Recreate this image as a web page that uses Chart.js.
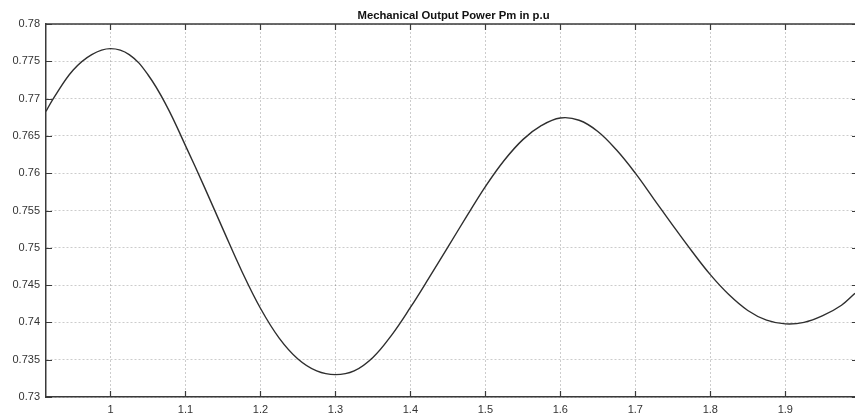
<!DOCTYPE html>
<html>
<head>
<meta charset="utf-8">
<script src="https://cdn.jsdelivr.net/npm/chart.js@4"></script>
<style>
  html, body { margin: 0; padding: 0; background: #fff; }
  #wrap { width: 855px; height: 419px; }
</style>
</head>
<body>
<div id="wrap"><canvas id="chart-pm"></canvas></div>
<script>
// time axis (s) and mechanical power (p.u.)
var time = [0.914, 0.925, 0.95, 0.975, 1.0, 1.025, 1.05, 1.075, 1.1, 1.125,
    1.15, 1.175, 1.2, 1.225, 1.25, 1.275, 1.3, 1.325, 1.35, 1.375,
    1.4, 1.425, 1.45, 1.475, 1.5, 1.525, 1.55, 1.575, 1.6, 1.625,
    1.65, 1.675, 1.7, 1.725, 1.75, 1.775, 1.8, 1.825, 1.85, 1.875,
    1.9, 1.925, 1.95, 1.975, 1.993];
var power = [0.7683, 0.7702, 0.7738, 0.7759, 0.7767, 0.7759, 0.7732, 0.7690, 0.7637, 0.7582,
    0.7525, 0.7469, 0.7419, 0.7379, 0.7351, 0.7335, 0.7330, 0.7335, 0.7353, 0.7383,
    0.7420, 0.7460, 0.7501, 0.7542, 0.7582, 0.7617, 0.7645, 0.7664, 0.7674, 0.7671,
    0.7656, 0.7631, 0.7600, 0.7565, 0.7530, 0.7496, 0.7464, 0.7437, 0.7416, 0.7403,
    0.7398, 0.7400, 0.7409, 0.7423, 0.7439];

var xTicks = [1, 1.1, 1.2, 1.3, 1.4, 1.5, 1.6, 1.7, 1.8, 1.9];
var yTicks = [0.73, 0.735, 0.74, 0.745, 0.75, 0.755, 0.76, 0.765, 0.77, 0.775, 0.78];
var title = 'Mechanical Output Power Pm in p.u';

var AXIS = '#3a3a3a';
var GRID = 'rgba(0,0,0,0.2)';

// box + inward ticks, title over the plot centre
var axesPlugin = {
    id: 'axesBox',
    afterDraw: function (chart) {
        var ctx = chart.ctx;
        var a = chart.chartArea;
        var sx = chart.scales.x, sy = chart.scales.y;
        ctx.save();
        ctx.strokeStyle = AXIS;
        ctx.lineWidth = 1.5;
        ctx.beginPath();
        ctx.moveTo(a.left, a.top);
        ctx.lineTo(a.right, a.top);
        ctx.stroke();

        ctx.lineWidth = 1.2;
        ctx.beginPath();
        xTicks.forEach(function (v) {
            var px = Math.round(sx.getPixelForValue(v)) + 0.5;
            ctx.moveTo(px, a.bottom); ctx.lineTo(px, a.bottom - 6);
            ctx.moveTo(px, a.top); ctx.lineTo(px, a.top + 6);
        });
        yTicks.forEach(function (v) {
            var py = Math.round(sy.getPixelForValue(v)) + 0.5;
            ctx.moveTo(a.left, py); ctx.lineTo(a.left + 6, py);
            ctx.moveTo(a.right, py); ctx.lineTo(a.right - 3, py);
        });
        ctx.stroke();

        ctx.fillStyle = '#111';
        ctx.font = 'bold 11.3px "Liberation Sans", Arial, sans-serif';
        ctx.textAlign = 'center';
        ctx.textBaseline = 'middle';
        ctx.fillText(title, (a.left + a.right) / 2 + 3, 15.5);
        ctx.restore();
    }
};

var tickFont = { family: '"Liberation Sans", Arial, sans-serif', size: 11 };

var ctx = document.getElementById('chart-pm').getContext('2d');
var chartPm = new Chart(ctx, {
    type: 'line',
    data: {
        datasets: [{
            label: 'Pm',
            data: time.map(function (t, i) { return { x: t, y: power[i] }; }),
            borderColor: '#2e2e2e',
            borderWidth: 1.4,
            pointRadius: 0,
            fill: false,
            tension: 0.4
        }]
    },
    options: {
        responsive: true,
        maintainAspectRatio: false,
        animation: false,
        layout: { padding: { top: 24, right: 0, left: 0, bottom: 0 } },
        plugins: {
            legend: { display: false },
            title: { display: false },
            tooltip: { enabled: false }
        },
        scales: {
            x: {
                type: 'linear',
                min: 0.914,
                max: 1.993,
                afterBuildTicks: function (scale) {
                    scale.ticks = xTicks.map(function (v) { return { value: v }; });
                },
                afterFit: function (scale) { scale.height = 22; },
                grid: { color: GRID, drawTicks: false, lineWidth: 1 },
                border: { color: AXIS, width: 1.5, dash: [2, 2] },
                ticks: {
                    padding: 6,
                    maxRotation: 0,
                    color: '#333',
                    font: tickFont,
                    callback: function (v) { return String(+v.toFixed(2)); }
                }
            },
            y: {
                min: 0.73,
                max: 0.78,
                afterBuildTicks: function (scale) {
                    scale.ticks = yTicks.map(function (v) { return { value: v }; });
                },
                afterFit: function (scale) { scale.width = 46; },
                grid: { color: GRID, drawTicks: false, lineWidth: 1 },
                border: { color: AXIS, width: 1.5, dash: [2, 2] },
                ticks: {
                    padding: 6,
                    color: '#333',
                    font: tickFont,
                    callback: function (v) { return String(+v.toFixed(3)); }
                }
            }
        }
    },
    plugins: [axesPlugin]
});
</script>
</body>
</html>
